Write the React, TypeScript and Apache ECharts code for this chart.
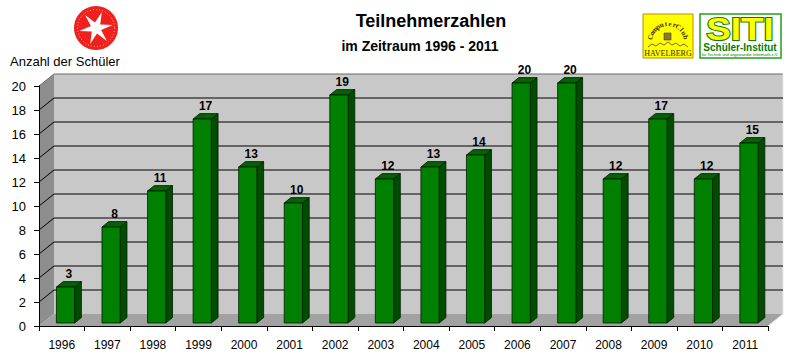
import React, { useEffect, useRef } from "react";
import * as echarts from "echarts";

const years = ["1996", "1997", "1998", "1999", "2000", "2001", "2002", "2003", "2004", "2005", "2006", "2007", "2008", "2009", "2010", "2011"];
const students = [3, 8, 11, 17, 13, 10, 19, 12, 13, 14, 20, 20, 12, 17, 12, 15];
const gridTicks = [2, 4, 6, 8, 10, 12, 14, 16, 18];

const DX = 15;
const DY = -12;

export default function App() {
  const ref = useRef<HTMLDivElement>(null);
  useEffect(() => {
    if (!ref.current) return;
    const chart = echarts.init(ref.current, null, { renderer: "svg" });

    const starPts: number[][] = [];
    const cx0 = 96, cy0 = 28;
    for (let k = 0; k < 12; k++) {
      const ang = (k * Math.PI) / 6 - Math.PI / 2 + 0.35;
      const r = k % 2 === 0 ? 17 : 5.5;
      starPts.push([cx0 + r * Math.cos(ang), cy0 + r * Math.sin(ang)]);
    }

    const arcText = "ComputerClub";
    const arcChars: any[] = [];
    for (let k = 0; k < arcText.length; k++) {
      const a = (-165 + (150 * k) / (arcText.length - 1)) * (Math.PI / 180);
      arcChars.push({
        type: "text",
        x: 668 + 18 * Math.cos(a),
        y: 42 + 18 * Math.sin(a),
        rotation: -(a + Math.PI / 2),
        style: { text: arcText[k], fill: "#3a2a00", font: "bold 7px 'Liberation Serif'", align: "center", verticalAlign: "middle" },
      });
    }

    chart.setOption({
      animation: false,
      grid: { left: 39, right: 25, top: 86, bottom: 35 },
      xAxis: {
        type: "category",
        data: years,
        z: 5,
        axisLine: { lineStyle: { color: "#000", width: 1 } },
        axisTick: { show: true, length: 5, lineStyle: { color: "#000" } },
        axisLabel: { color: "#000", fontSize: 12, fontFamily: "Arial, 'Liberation Sans'", margin: 13 },
        splitLine: { show: false },
      },
      yAxis: {
        type: "value",
        min: 0,
        max: 20,
        interval: 2,
        z: 5,
        axisLine: { show: true, lineStyle: { color: "#000", width: 1 } },
        axisTick: { show: true, length: 5, lineStyle: { color: "#000" } },
        axisLabel: { color: "#000", fontSize: 13, fontFamily: "Arial, 'Liberation Sans'", margin: 13 },
        splitLine: { show: false },
      },
      graphic: [
        { type: "text", x: 431, y: 21, style: { text: "Teilnehmerzahlen", font: "bold 18px Arial, 'Liberation Sans'", fill: "#000", align: "center", verticalAlign: "middle" } },
        { type: "text", x: 420, y: 46, style: { text: "im Zeitraum 1996 - 2011", font: "bold 14px Arial, 'Liberation Sans'", fill: "#000", align: "center", verticalAlign: "middle" } },
        { type: "text", x: 10, y: 61, style: { text: "Anzahl der Schüler", font: "13px Arial, 'Liberation Sans'", fill: "#000", align: "left", verticalAlign: "middle" } },
        { type: "circle", shape: { cx: cx0, cy: cy0, r: 22 }, style: { fill: "#f0201c" } },
        { type: "circle", shape: { cx: cx0, cy: cy0, r: 18.5 }, style: { fill: "none", stroke: "#ffb0a8", lineWidth: 1, lineDash: [1, 2] } },
        { type: "polygon", shape: { points: starPts }, style: { fill: "#ffffff" } },
        { type: "rect", shape: { x: 643, y: 14, width: 50, height: 44 }, style: { fill: "#ffff00", stroke: "#b09000", lineWidth: 1 } },
        ...arcChars,
        { type: "rect", shape: { x: 664, y: 33, width: 7, height: 7 }, style: { fill: "#8a7a30", stroke: "#3a2a00", lineWidth: 0.5 } },
        { type: "polyline", shape: { points: [[648, 47], [652, 44], [656, 46], [660, 43], [664, 45], [668, 42], [672, 45], [676, 43], [680, 46], [684, 44], [688, 47]] }, style: { stroke: "#7a6a20", lineWidth: 1, fill: "none" } },
        { type: "text", x: 668, y: 53, style: { text: "HAVELBERG", font: "8px 'Liberation Serif'", fill: "#3a2a00", align: "center", verticalAlign: "middle" } },
        { type: "rect", shape: { x: 700, y: 14, width: 81, height: 44 }, style: { fill: "#ffffff", stroke: "#20a020", lineWidth: 1.5 } },
        { type: "text", x: 740, y: 29, scaleX: 1.15, style: { text: "SITI", font: "bold 32px Arial, 'Liberation Sans'", fill: "#ffff00", stroke: "#008000", lineWidth: 2, align: "center", verticalAlign: "middle" } },
        { type: "text", x: 740, y: 47, style: { text: "Schüler-Institut", font: "bold 10px Arial, 'Liberation Sans'", fill: "#008000", align: "center", verticalAlign: "middle" } },
        { type: "text", x: 740, y: 54, style: { text: "für Technik und angewandte Informatik e.V.", font: "4px Arial, 'Liberation Sans'", fill: "#008000", align: "center", verticalAlign: "middle" } },
      ],
      series: [
        {
          type: "custom",
          z: 1,
          silent: true,
          data: [0],
          renderItem: (params: any, api: any) => {
            const bw = api.size([1, 0])[0];
            const p0 = api.coord([0, 0]);
            const pN = api.coord([years.length - 1, 0]);
            const x0 = p0[0] - bw / 2;
            const x1 = pN[0] + bw / 2;
            const y0 = p0[1];
            const y20 = api.coord([0, 20])[1];
            const children: any[] = [
              { type: "polygon", shape: { points: [[x0 + DX, y0 + DY], [x1 + DX, y0 + DY], [x1 + DX, y20 + DY], [x0 + DX, y20 + DY]] }, style: { fill: "#c8c8c8" } },
              { type: "polygon", shape: { points: [[x0, y0], [x0 + DX, y0 + DY], [x0 + DX, y20 + DY], [x0, y20]] }, style: { fill: "#8e8e8e" } },
              { type: "polygon", shape: { points: [[x0, y0], [x1, y0], [x1 + DX, y0 + DY], [x0 + DX, y0 + DY]] }, style: { fill: "#a2a2a2" } },
              { type: "polyline", shape: { points: [[x0, y20], [x0 + DX, y20 + DY], [x1 + DX, y20 + DY]] }, style: { stroke: "#6a6a6a", lineWidth: 1, fill: "none" } },
              { type: "polyline", shape: { points: [[x1 + DX, y20 + DY], [x1 + DX, y0 + DY], [x1, y0]] }, style: { stroke: "#e8e8e8", lineWidth: 1, fill: "none" } },
            ];
            gridTicks.forEach((v) => {
              const yv = api.coord([0, v])[1];
              children.push({ type: "polyline", shape: { points: [[x0, yv], [x0 + DX, yv + DY], [x1 + DX, yv + DY]] }, style: { stroke: "#000", lineWidth: 1, fill: "none" } });
            });
            return { type: "group", children };
          },
        },
        {
          type: "custom",
          z: 2,
          data: students.map((v, i) => [i, v]),
          renderItem: (params: any, api: any) => {
            const i = api.value(0);
            const v = api.value(1);
            const bw = api.size([1, 0])[0];
            const w = bw * 0.4;
            const pb = api.coord([i, 0]);
            const pt = api.coord([i, v]);
            const fx = DX * 0.25, fy = DY * 0.25;
            const ddx = DX * 0.45, ddy = DY * 0.45;
            const xl = pb[0] + fx - w / 2;
            const xr = pb[0] + fx + w / 2;
            const yb = pb[1] + fy;
            const yt = pt[1] + fy;
            const st = { stroke: "#001a00", lineWidth: 0.8 };
            return {
              type: "group",
              children: [
                { type: "polygon", shape: { points: [[xr, yt], [xr + ddx, yt + ddy], [xr + ddx, yb + ddy], [xr, yb]] }, style: { fill: "#004c00", ...st } },
                { type: "polygon", shape: { points: [[xl, yt], [xr, yt], [xr + ddx, yt + ddy], [xl + ddx, yt + ddy]] }, style: { fill: "#006400", ...st } },
                { type: "rect", shape: { x: xl, y: yt, width: w, height: yb - yt }, style: { fill: "#008000", ...st } },
                { type: "text", x: (xl + xr) / 2 + ddx / 2, y: yt + ddy - 2, style: { text: String(v), font: "bold 12px Arial, 'Liberation Sans'", fill: "#000", align: "center", verticalAlign: "bottom" } },
              ],
            };
          },
        },
      ],
    });
    return () => chart.dispose();
  }, []);
  return <div ref={ref} style={{ width: 793, height: 361, position: "absolute", left: 0, top: 0, background: "#fff" }} />;
}
